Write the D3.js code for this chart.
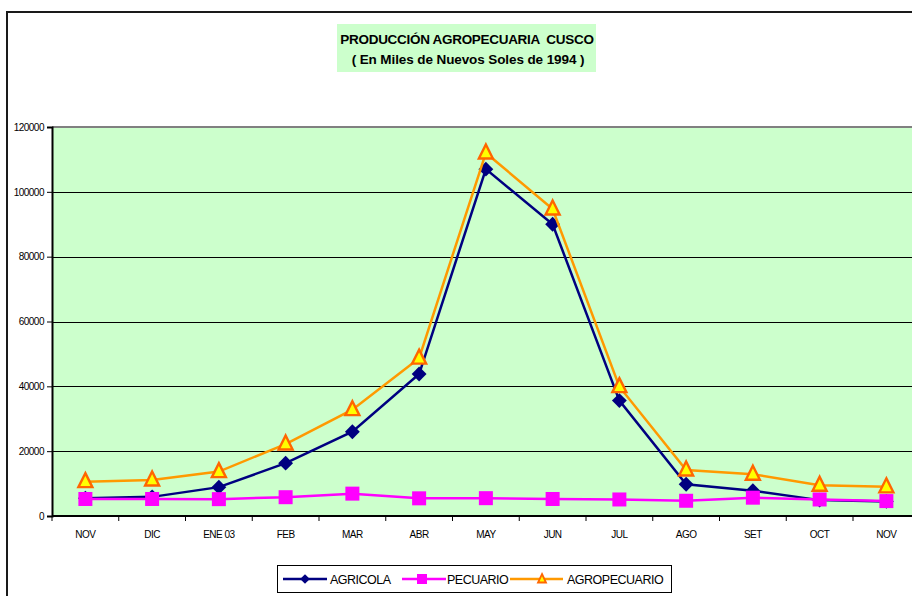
<!DOCTYPE html>
<html lang="es">
<head>
<meta charset="utf-8">
<title>Producción Agropecuaria Cusco</title>
<script src="https://d3js.org/d3.v7.min.js"></script>
<style>
  body { margin: 0; background: #fff; }
  svg text { font-family: "Liberation Sans", Arial, sans-serif; fill: #000; }
</style>
</head>
<body>
<svg id="chart" width="912" height="596"></svg>
<script>
// data
var months = ["NOV", "DIC", "ENE 03", "FEB", "MAR", "ABR", "MAY", "JUN", "JUL", "AGO", "SET", "OCT", "NOV "];
var agricola = [5500, 5900, 8900, 16300, 26000, 43800, 107000, 90000, 35600, 9800, 7800, 4900, 4500];
var pecuario = [5250, 5250, 5200, 5800, 6900, 5450, 5500, 5250, 5100, 4700, 5650, 5100, 4600];
var agropecuario = [10600, 11100, 13700, 22200, 32800, 48700, 112000, 94700, 39900, 14200, 12900, 9500, 9000];
var yTicks = [0, 20000, 40000, 60000, 80000, 100000, 120000];

var svg = d3.select("#chart");

// outer chart border (cropped on right/bottom)
svg.append("path")
  .attr("d", "M7,700 L7,12 L1000,12")
  .attr("fill", "none").attr("stroke", "#1a1a1a").attr("stroke-width", 2);

var plotLeft = 52, plotTop = 127, plotW = 13 * 66.75, plotH = 389;

var x = d3.scaleBand().domain(months).range([plotLeft, plotLeft + plotW]);
var y = d3.scaleLinear().domain([0, 120000]).range([plotTop + plotH, plotTop]);

// plot area
svg.append("rect")
  .attr("x", plotLeft).attr("y", plotTop).attr("width", plotW).attr("height", plotH)
  .attr("fill", "#ccffcc");
svg.append("line")
  .attr("x1", plotLeft).attr("x2", plotLeft + plotW).attr("y1", plotTop).attr("y2", plotTop)
  .attr("stroke", "#808080").attr("stroke-width", 2);

// gridlines
svg.append("g").selectAll("line")
  .data(yTicks.filter(function(d){ return d > 0 && d < 120000; }))
  .enter().append("line")
    .attr("x1", plotLeft).attr("x2", plotLeft + plotW)
    .attr("y1", function(d){ return Math.round(y(d)) + 0.5; })
    .attr("y2", function(d){ return Math.round(y(d)) + 0.5; })
    .attr("stroke", "#000").attr("stroke-width", 1);

// y axis
var yAxis = svg.append("g")
  .attr("transform", "translate(" + plotLeft + ",0)")
  .call(d3.axisLeft(y).tickValues(yTicks).tickFormat(d3.format("d")).tickSize(5).tickPadding(3));
yAxis.select(".domain").attr("stroke", "#000").attr("stroke-width", 2);
yAxis.selectAll("text").style("font-size", "10px").style("font-family", "Liberation Sans, Arial, sans-serif")
  .style("letter-spacing", "-0.5px");

// x axis with ticks between categories
var xAxis = svg.append("g")
  .attr("transform", "translate(0," + (plotTop + plotH) + ")");
xAxis.append("line")
  .attr("x1", plotLeft).attr("x2", plotLeft + plotW).attr("y1", 0).attr("y2", 0)
  .attr("stroke", "#000").attr("stroke-width", 2);
xAxis.selectAll(".tk").data(months).enter().append("line")
  .attr("x1", function(d){ return x(d); }).attr("x2", function(d){ return x(d); })
  .attr("y1", 0).attr("y2", 5).attr("stroke", "#000");
xAxis.selectAll(".lbl").data(months).enter().append("text")
  .attr("x", function(d){ return x(d) + x.bandwidth() / 2; })
  .attr("y", 22)
  .attr("text-anchor", "middle")
  .style("font-size", "10px")
  .style("letter-spacing", "-0.5px")
  .text(function(d){ return d.trim(); });

var line = d3.line()
  .x(function(d, i){ return x(months[i]) + x.bandwidth() / 2; })
  .y(function(d){ return y(d); });

function drawMarker(g, kind, cx, cy) {
  if (kind === "diamond") {
    g.append("path").attr("d", d3.symbol().type(d3.symbolDiamond2).size(140)())
      .attr("transform", "translate(" + cx + "," + cy + ")")
      .attr("fill", "#000080");
  } else if (kind === "square") {
    g.append("rect").attr("x", cx - 7).attr("y", cy - 7).attr("width", 14).attr("height", 14)
      .attr("fill", "#ff00ff");
  } else {
    g.append("path").attr("d", "M0,-8.5 L7,5.5 L-7,5.5 Z")
      .attr("transform", "translate(" + cx + "," + cy + ")")
      .attr("fill", "#ffff00").attr("stroke", "#ff6600").attr("stroke-width", 2.4)
      .attr("stroke-linejoin", "miter");
  }
}

var series = [
  { name: "AGRICOLA", values: agricola, color: "#000080", marker: "diamond" },
  { name: "PECUARIO", values: pecuario, color: "#ff00ff", marker: "square" },
  { name: "AGROPECUARIO", values: agropecuario, color: "#ff9900", marker: "triangle" }
];

series.forEach(function(s) {
  var g = svg.append("g");
  g.append("path").datum(s.values)
    .attr("d", line).attr("fill", "none")
    .attr("stroke", s.color).attr("stroke-width", 2.5);
  s.values.forEach(function(v, i) {
    drawMarker(g, s.marker, x(months[i]) + x.bandwidth() / 2, y(v));
  });
});

// title
svg.append("rect").attr("x", 337).attr("y", 24).attr("width", 259).attr("height", 48)
  .attr("fill", "#ccffcc");
svg.append("text").attr("x", 467).attr("y", 44).attr("text-anchor", "middle")
  .style("font-size", "13.5px").style("font-weight", "bold").style("letter-spacing", "-0.3px")
  .style("white-space", "pre")
  .text("PRODUCCIÓN AGROPECUARIA  CUSCO");
svg.append("text").attr("x", 468).attr("y", 64).attr("text-anchor", "middle")
  .style("font-size", "13.5px").style("font-weight", "bold").style("letter-spacing", "-0.1px")
  .text("( En Miles de Nuevos Soles de 1994 )");

// legend
var legend = svg.append("g");
legend.append("rect").attr("x", 277.5).attr("y", 565.5).attr("width", 394).attr("height", 27)
  .attr("fill", "#fff").attr("stroke", "#000").attr("stroke-width", 1);
var legendX = [283, 402, 510];
var legendTextX = [330, 447, 567];
series.forEach(function(s, i) {
  var lx = legendX[i];
  var lw = i === 2 ? 53 : 44;
  legend.append("line").attr("x1", lx).attr("x2", lx + lw).attr("y1", 579).attr("y2", 579)
    .attr("stroke", s.color).attr("stroke-width", 2.5);
  var g = legend.append("g");
  if (s.marker === "triangle") {
    g.append("path").attr("d", "M0,-5 L4,3.5 L-4,3.5 Z")
      .attr("transform", "translate(" + (lx + 32) + ",579)")
      .attr("fill", "#ffff00").attr("stroke", "#ff6600").attr("stroke-width", 1.8);
  } else if (s.marker === "square") {
    g.append("rect").attr("x", lx + 20 - 5).attr("y", 574).attr("width", 10).attr("height", 10)
      .attr("fill", "#ff00ff");
  } else {
    g.append("path").attr("d", d3.symbol().type(d3.symbolDiamond2).size(60)())
      .attr("transform", "translate(" + (lx + 22) + ",579)")
      .attr("fill", "#000080");
  }
  legend.append("text").attr("x", legendTextX[i]).attr("y", 584)
    .style("font-size", "12.5px").style("letter-spacing", "-0.5px")
    .text(s.name);
});
</script>
</body>
</html>
